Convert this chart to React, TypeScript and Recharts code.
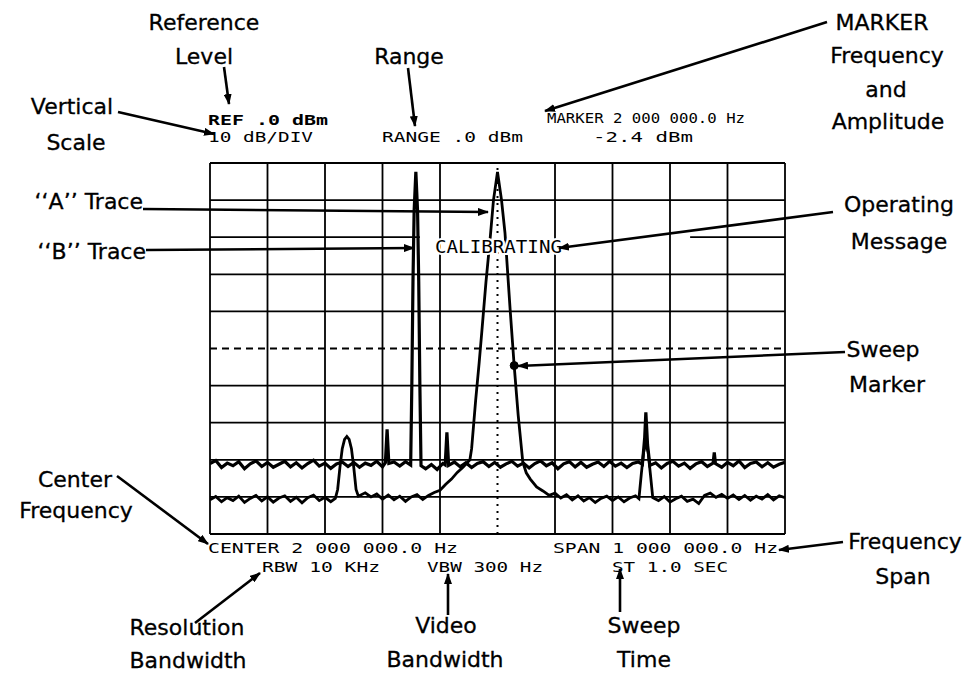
import { LineChart, Line, XAxis, YAxis, ReferenceLine, ReferenceDot } from "recharts";

// spectrum analyzer screen: 1.5 - 2.5 MHz, REF 0 dBm, 10 dB/div
const freqTicks = [1.5, 1.6, 1.7, 1.8, 1.9, 2.0, 2.1, 2.2, 2.3, 2.4, 2.5];
const levelTicks = [0, -10, -20, -30, -40, -50, -60, -70, -80, -90, -100];
const centerFreq = 2.0;
const rangeLevel = -50;
const calibratingGap = [1.865, 2.335];
const sweepMarker = { f: 2.029, v: -54.6 };

// "A" trace (broad peak, lower noise floor)
const traceAFreq = [
  1.5, 1.51, 1.52, 1.53, 1.54, 1.55, 1.56, 1.57, 1.58, 1.59, 1.6, 1.61, 1.62, 1.63, 1.64, 1.65, 1.66, 1.67,
  1.68, 1.69, 1.7, 1.71, 1.718, 1.722, 1.726, 1.73, 1.734, 1.738, 1.742, 1.746, 1.75, 1.754, 1.758, 1.77,
  1.78, 1.79, 1.8, 1.81, 1.82, 1.83, 1.84, 1.85, 1.86, 1.87, 1.88, 1.89, 1.9, 1.91, 1.92, 1.93, 1.94, 1.952,
  1.955, 1.962, 1.968, 1.973, 1.98, 1.987, 1.993, 2.0, 2.007, 2.013, 2.022, 2.029, 2.036, 2.044, 2.05, 2.057,
  2.068, 2.079, 2.09, 2.1, 2.11, 2.12, 2.13, 2.14, 2.15, 2.16, 2.17, 2.18, 2.19, 2.2, 2.21, 2.22, 2.23, 2.24,
  2.246, 2.25, 2.254, 2.258, 2.262, 2.266, 2.27, 2.28, 2.29, 2.3, 2.31, 2.32, 2.33, 2.34, 2.35, 2.36, 2.37,
  2.38, 2.39, 2.4, 2.41, 2.42, 2.43, 2.44, 2.45, 2.46, 2.47, 2.48, 2.49, 2.5,
];
const traceALevel = [
  -90.8, -89.9, -91.3, -90.2, -91.0, -89.8, -91.5, -90.4, -89.6, -91.1, -90.0, -91.4, -90.3, -89.7, -91.2, -90.1, -91.6, -90.2,
  -89.5, -91.0, -90.1, -91.3, -90.4, -88, -82, -77, -74.5, -73.7, -74.5, -77, -82, -88, -89.8, -88.9,
  -90.0, -89.2, -90.6, -89.5, -90.8, -89.8, -91.2, -90.0, -89.4, -90.7, -89.6, -88.8, -88.2, -86.6, -85.2, -83.4, -82.0, -80,
  -77, -64, -54, -45, -32, -20.7, -10, -2.4, -10, -18.8, -39.5, -54.6, -68, -80.6, -83.5, -85.2,
  -87.3, -88.4, -89.6, -89.0, -90.3, -89.4, -90.8, -89.7, -91.1, -90.2, -91.5, -90.4, -89.8, -91.0, -90.0, -91.3, -90.3, -89.7,
  -90.5, -84, -78, -75.5, -78, -84, -90.2, -91.0, -89.9, -91.4, -90.5, -89.8, -91.2, -90.6, -91.8, -89.6, -89.0,
  -90.1, -89.3, -90.4, -89.5, -90.7, -89.6, -90.9, -89.8, -90.6, -89.4, -90.8, -89.7, -90.2,
];

// "B" trace (narrow spikes, upper noise floor)
const traceBFreq = [
  1.5, 1.51, 1.52, 1.53, 1.54, 1.55, 1.56, 1.57, 1.58, 1.59, 1.6, 1.61, 1.62, 1.63, 1.64, 1.65, 1.66, 1.67,
  1.68, 1.69, 1.7, 1.71, 1.72, 1.73, 1.74, 1.75, 1.76, 1.77, 1.78, 1.79, 1.8, 1.805, 1.808, 1.811, 1.82, 1.83,
  1.84, 1.849, 1.851, 1.853, 1.855, 1.858, 1.861, 1.863, 1.865, 1.867, 1.875, 1.885, 1.895, 1.905, 1.909, 1.912,
  1.915, 1.925, 1.935, 1.945, 1.955, 1.965, 1.975, 1.985, 1.995, 2.005, 2.015, 2.025, 2.035, 2.045, 2.055, 2.065,
  2.075, 2.085, 2.095, 2.105, 2.115, 2.125, 2.135, 2.145, 2.155, 2.165, 2.175, 2.185, 2.195, 2.205, 2.215, 2.225,
  2.235, 2.245, 2.252, 2.256, 2.258, 2.261, 2.265, 2.275, 2.285, 2.295, 2.305, 2.315, 2.325, 2.335, 2.345, 2.355,
  2.365, 2.375, 2.377, 2.379, 2.39, 2.4, 2.41, 2.42, 2.43, 2.44, 2.45, 2.46, 2.47, 2.48, 2.49, 2.5,
];
const traceBLevel = [
  -81.0, -80.2, -82.1, -80.9, -81.6, -80.5, -82.4, -81.1, -80.3, -81.8, -80.7, -82.0, -81.2, -80.4, -81.9, -80.8, -82.2, -81.0,
  -80.1, -81.7, -80.9, -82.3, -81.1, -80.6, -81.8, -80.7, -82.0, -80.9, -81.5, -80.4, -81.9, -80.8, -71.8, -81.0, -80.6, -81.7,
  -80.5, -81.4, -60, -32, -13, -2.4, -13, -32, -60, -81.6, -82.4, -81.3, -82.6, -81.0, -81.4, -72.6,
  -81.5, -80.6, -81.9, -80.8, -82.1, -81.0, -80.5, -81.8, -80.7, -82.0, -81.1, -80.4, -81.7, -80.9, -82.2, -81.0,
  -80.3, -81.6, -80.8, -82.4, -81.1, -80.5, -81.9, -80.7, -82.0, -81.2, -80.6, -81.8, -80.4, -81.7, -80.9, -82.1,
  -81.0, -80.6, -81.2, -74, -67.2, -76, -81.5, -80.8, -82.2, -81.0, -80.4, -81.7, -80.9, -82.3, -81.1, -80.5,
  -81.8, -80.9, -78.0, -81.0, -82.0, -80.7, -81.6, -80.3, -82.1, -81.0, -80.6, -81.9, -80.8, -82.0, -81.2, -80.7,
];

const traceA = traceAFreq.map((f, i) => ({ f, v: traceALevel[i] }));
const traceB = traceBFreq.map((f, i) => ({ f, v: traceBLevel[i] }));

const MONO = "'DejaVu Sans Mono', monospace";
const SANS = "'DejaVu Sans', sans-serif";

// screen read-outs: [text, x, baseline, length, bold]
const screenTexts: [string, number, number, number, boolean][] = [
  ["REF .0 dBm", 208, 125, 120, true],
  ["10 dB/DIV", 208, 142, 105, false],
  ["RANGE .0 dBm", 382, 142, 141, false],
  ["MARKER 2 000 000.0 Hz", 547, 123, 198, false],
  ["-2.4 dBm", 593, 142, 100, false],
  ["CENTER 2 000 000.0 Hz", 208, 553, 250, false],
  ["SPAN 1 000 000.0 Hz", 553, 553, 225, false],
  ["RBW 10 KHz", 262, 572, 118, false],
  ["VBW 300 Hz", 427, 572, 116, false],
  ["ST 1.0 SEC", 612, 572, 116, false],
];

// callout labels: [text, centre x, baseline]
const labels: [string, number, number][] = [
  ["Reference", 204, 30],
  ["Level", 204, 64],
  ["Range", 409, 64],
  ["Vertical", 72, 114],
  ["Scale", 76, 150],
  ["MARKER", 882, 30],
  ["Frequency", 887, 63],
  ["and", 886, 97],
  ["Amplitude", 888, 129],
  ["Operating", 899, 212],
  ["Message", 899, 249],
  ["Sweep", 883, 357],
  ["Marker", 887, 392],
  ["Center", 75, 487],
  ["Frequency", 76, 518],
  ["Resolution", 187, 635],
  ["Bandwidth", 188, 668],
  ["Video", 446, 633],
  ["Bandwidth", 445, 667],
  ["Sweep", 644, 633],
  ["Time", 644, 667],
  ["Frequency", 905, 549],
  ["Span", 903, 584],
];
const traceLabels: [string, number, number][] = [
  ["\u2018\u2018A\u2019\u2019 Trace", 143, 209],
  ["\u2018\u2018B\u2019\u2019 Trace", 146, 259],
];

// callout arrows: [x1, y1, x2, y2]
const arrows: [number, number, number, number][] = [
  [224, 67, 229, 104],
  [408, 68, 415, 126],
  [118, 112, 214, 134],
  [827, 22, 545, 111],
  [143, 209, 488, 212],
  [146, 250, 414, 248],
  [833, 212, 559, 248],
  [845, 352, 518, 366],
  [117, 476, 208, 544],
  [195, 623, 260, 573],
  [448, 615, 448, 574],
  [620, 612, 620, 569],
  [843, 542, 779, 550],
];

export default function App() {
  const ink = "#000";
  return (
    <div style={{ position: "absolute", left: 0, top: 0, width: 968, height: 673, background: "#fff" }}>
      <LineChart width={968} height={673} margin={{ top: 163, right: 183, bottom: 139, left: 210 }}>
        <XAxis type="number" dataKey="f" domain={[1.5, 2.5]} ticks={freqTicks} hide allowDataOverflow />
        <YAxis type="number" dataKey="v" domain={[-100, 0]} ticks={levelTicks} hide allowDataOverflow />
        {freqTicks
          .filter((f) => f !== centerFreq)
          .map((f) => (
            <ReferenceLine key={`vx${f}`} x={f} stroke={ink} strokeWidth={1.8} />
          ))}
        <ReferenceLine x={centerFreq} stroke={ink} strokeWidth={2} strokeDasharray="2 5" />
        {levelTicks
          .filter((v) => v !== rangeLevel && v !== -20)
          .map((v) => (
            <ReferenceLine key={`hy${v}`} y={v} stroke={ink} strokeWidth={1.8} />
          ))}
        <ReferenceLine y={rangeLevel} stroke={ink} strokeWidth={1.8} strokeDasharray="7 5" />
        <ReferenceLine
          segment={[{ x: 1.5, y: -20 }, { x: calibratingGap[0], y: -20 }]}
          stroke={ink}
          strokeWidth={1.8}
        />
        <ReferenceLine
          segment={[{ x: calibratingGap[1], y: -20 }, { x: 2.5, y: -20 }]}
          stroke={ink}
          strokeWidth={1.8}
        />
        <Line
          data={traceB}
          dataKey="v"
          type="linear"
          stroke={ink}
          strokeWidth={3.2}
          dot={false}
          isAnimationActive={false}
        />
        <Line
          data={traceA}
          dataKey="v"
          type="linear"
          stroke={ink}
          strokeWidth={2.8}
          dot={false}
          isAnimationActive={false}
        />
        <ReferenceDot x={sweepMarker.f} y={sweepMarker.v} r={4} fill={ink} stroke={ink} />
      </LineChart>

      <svg
        width={968}
        height={673}
        style={{ position: "absolute", left: 0, top: 0, pointerEvents: "none" }}
      >
        <defs>
          <marker
            id="head"
            markerUnits="userSpaceOnUse"
            markerWidth={11}
            markerHeight={8}
            refX={10}
            refY={4}
            orient="auto"
          >
            <path d="M0,0 L11,4 L0,8 z" fill={ink} />
          </marker>
        </defs>
        {screenTexts.map(([t, x, y, len, bold]) => (
          <text
            key={t}
            x={x}
            y={y}
            textLength={len}
            lengthAdjust="spacingAndGlyphs"
            fontFamily={MONO}
            fontSize={14}
            fontWeight={bold ? 700 : 400}
            fill={ink}
          >
            {t}
          </text>
        ))}
        <text
          x={435}
          y={253}
          textLength={127}
          lengthAdjust="spacingAndGlyphs"
          fontFamily={MONO}
          fontSize={17}
          fill={ink}
          style={{ paintOrder: "stroke" }}
          stroke="#fff"
          strokeWidth={4}
        >
          CALIBRATING
        </text>
        {labels.map(([t, x, y], i) => (
          <text
            key={`${t}${i}`}
            x={x}
            y={y}
            textAnchor="middle"
            fontFamily={SANS}
            fontSize={22}
            fill={ink}
            stroke={ink}
            strokeWidth={0.3}
          >
            {t}
          </text>
        ))}
        {traceLabels.map(([t, x, y], i) => (
          <text
            key={`tl${i}`}
            x={x}
            y={y}
            textAnchor="end"
            fontFamily={SANS}
            fontSize={22}
            fill={ink}
            stroke={ink}
            strokeWidth={0.3}
          >
            {t}
          </text>
        ))}
        {arrows.map(([x1, y1, x2, y2], i) => (
          <line
            key={`a${i}`}
            x1={x1}
            y1={y1}
            x2={x2}
            y2={y2}
            stroke={ink}
            strokeWidth={2.6}
            markerEnd="url(#head)"
          />
        ))}
      </svg>
    </div>
  );
}
